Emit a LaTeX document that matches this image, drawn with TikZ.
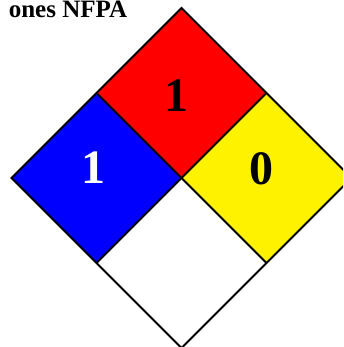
\documentclass[tikz,border=0pt]{standalone}
\usepackage{fontspec}
\setmainfont{Liberation Serif}
\begin{document}
\begin{tikzpicture}[x=1pt,y=-1pt,
  quad/.style={draw=black,line width=2pt,line join=miter},
  digit/.style={inner sep=0pt,font=\fontsize{48}{48}\selectfont\bfseries},
  title/.style={inner sep=0pt,anchor=base east,font=\fontsize{25}{25}\selectfont\bfseries}]
\useasboundingbox (0,0) rectangle (343,347);
\clip (0,0) rectangle (343,347);
\coordinate (T) at (181.5,8);
\coordinate (L) at (11.5,178);
\coordinate (R) at (351.5,178);
\coordinate (B) at (181.5,348);
\coordinate (C) at (181.5,178);
\coordinate (TL) at (96.5,93);
\coordinate (TR) at (266.5,93);
\coordinate (BL) at (96.5,263);
\coordinate (BR) at (266.5,263);
\fill[red] (T) -- (TR) -- (C) -- (TL) -- cycle;
\fill[blue] (TL) -- (C) -- (BL) -- (L) -- cycle;
\fill[yellow] (TR) -- (R) -- (BR) -- (C) -- cycle;
\fill[white] (C) -- (BR) -- (B) -- (BL) -- cycle;
\draw[quad] (T) -- (R) -- (B) -- (L) -- cycle;
\draw[quad] (TL) -- (BR);
\draw[quad] (TR) -- (BL);
\node[digit,text=black] (health) at (176,96) {1};
\node[digit,text=white] (fire) at (93,168) {1};
\node[digit,text=black] (react) at (261,168.7) {0};
\node[title] (ttl) at (127.3,17.5) {ones NFPA};
\end{tikzpicture}
\end{document}
